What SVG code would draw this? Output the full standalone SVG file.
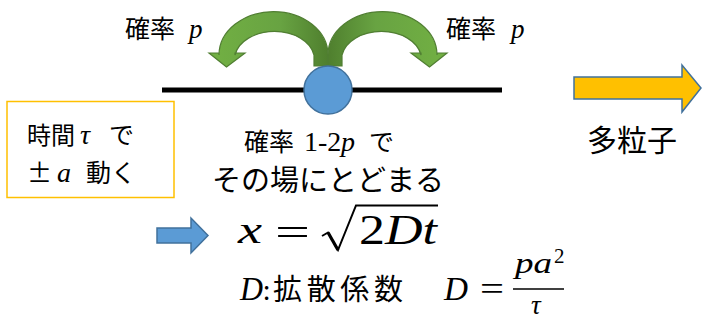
<svg xmlns="http://www.w3.org/2000/svg" width="702" height="321" viewBox="0 0 702 321">
<style>
.jp{font-family:"Noto Sans CJK JP","Noto Sans",sans-serif;fill:#000}
.m{font-family:"Liberation Serif",serif;font-style:italic;fill:#000}
.mr{font-family:"Liberation Serif",serif;font-style:normal;fill:#000}
.blue{fill:#5B9BD5;stroke:#41719C;stroke-width:1.5}
</style>
<defs>
<linearGradient id="g" x1="0" y1="0" x2="1" y2="0">
<stop offset="0" stop-color="#72B043"/>
<stop offset="0.6" stop-color="#68A342"/>
<stop offset="1" stop-color="#4F7F2E"/>
</linearGradient>
<path id="garrow" d="M314 66 L314 55 A40 28 0 0 0 235 55 L235 53 L245 53 L226.5 67 L209 53 L219 53 L219 55 A54 43 0 0 1 328 55 L328 66 Z" fill="url(#g)" stroke="#507E32" stroke-width="1.2"/>
</defs>
<g id="connectors">
<use href="#garrow"/>
<use href="#garrow" transform="translate(656,0) scale(-1,1)"/>
</g>
<g id="label-left"><text x="125" y="38" class="jp" font-size="25">確率</text><text x="189" y="38" class="m" font-size="27">p</text></g>
<g id="label-right"><text x="446" y="38" class="jp" font-size="25">確率</text><text x="511" y="38" class="m" font-size="27">p</text></g>
<g id="line"><line x1="162" y1="90" x2="502" y2="90" stroke="#000" stroke-width="5"/></g>
<g id="particle"><circle cx="328" cy="90" r="24" class="blue"/></g>
<g id="box">
<rect x="7" y="101.5" width="167" height="96" fill="#fff" stroke="#FFC000" stroke-width="1.5"/>
<text x="27" y="144" class="jp" font-size="24">時間</text>
<text x="80" y="144" class="m" font-size="28">τ</text>
<text x="109" y="144" class="jp" font-size="25">で</text>
<text x="27" y="182" class="jp" font-size="25">±</text>
<text x="57" y="182" class="m" font-size="28">a</text>
<text x="86" y="182" class="jp" font-size="25">動く</text>
</g>
<g id="stay">
<text x="244" y="151" class="jp" font-size="25">確率</text>
<text x="304" y="151" class="mr" font-size="28">1-2</text>
<text x="341" y="151" class="m" font-size="28">p</text>
<text x="369" y="151" class="jp" font-size="25">で</text>
<text x="328" y="191" class="jp" font-size="29" text-anchor="middle">その場にとどまる</text>
</g>
<g id="many">
<path d="M574 77 L682 77 L682 65 L701 88 L682 112 L682 99 L574 99 Z" fill="#FFC000" stroke="#41719C" stroke-width="1.5"/>
<text x="632" y="151" class="jp" font-size="30" text-anchor="middle">多粒子</text>
</g>
<g id="result">
<path d="M157 228 L191 228 L191 218 L208 235.5 L191 253 L191 243 L157 243 Z" class="blue"/>
<text x="238" y="243" class="m" font-size="38" textLength="24" lengthAdjust="spacingAndGlyphs">x</text>
<text x="275" y="246" class="mr" font-size="40" textLength="35" lengthAdjust="spacingAndGlyphs">=</text>
<path d="M322 236 L328 232.5 L338 250 L356 205.5 L438 205.5" fill="none" stroke="#000" stroke-width="2" stroke-linejoin="miter"/>
<path d="M328 232.5 L338 250" fill="none" stroke="#000" stroke-width="3.2"/>
<text x="359" y="244" font-size="42" textLength="78" lengthAdjust="spacingAndGlyphs"><tspan class="mr">2</tspan><tspan class="m">Dt</tspan></text>
</g>
<g id="coef">
<text x="240" y="300" class="m" font-size="33" textLength="23" lengthAdjust="spacingAndGlyphs">D</text>
<text x="263" y="300" class="jp" font-size="26">:</text>
<text x="273" y="300" class="jp" font-size="29" textLength="130" lengthAdjust="spacing">拡散係数</text>
<text x="444" y="300" class="m" font-size="33" textLength="24" lengthAdjust="spacingAndGlyphs">D</text>
<text x="480" y="300" class="mr" font-size="33" textLength="24" lengthAdjust="spacingAndGlyphs">=</text>
<text x="515" y="273" class="m" font-size="30" textLength="37" lengthAdjust="spacingAndGlyphs">pa</text>
<text x="554" y="263" class="mr" font-size="21">2</text>
<line x1="513" y1="289" x2="564" y2="289" stroke="#000" stroke-width="1.3"/>
<text x="531" y="314" class="m" font-size="27">τ</text>
</g>
</svg>
